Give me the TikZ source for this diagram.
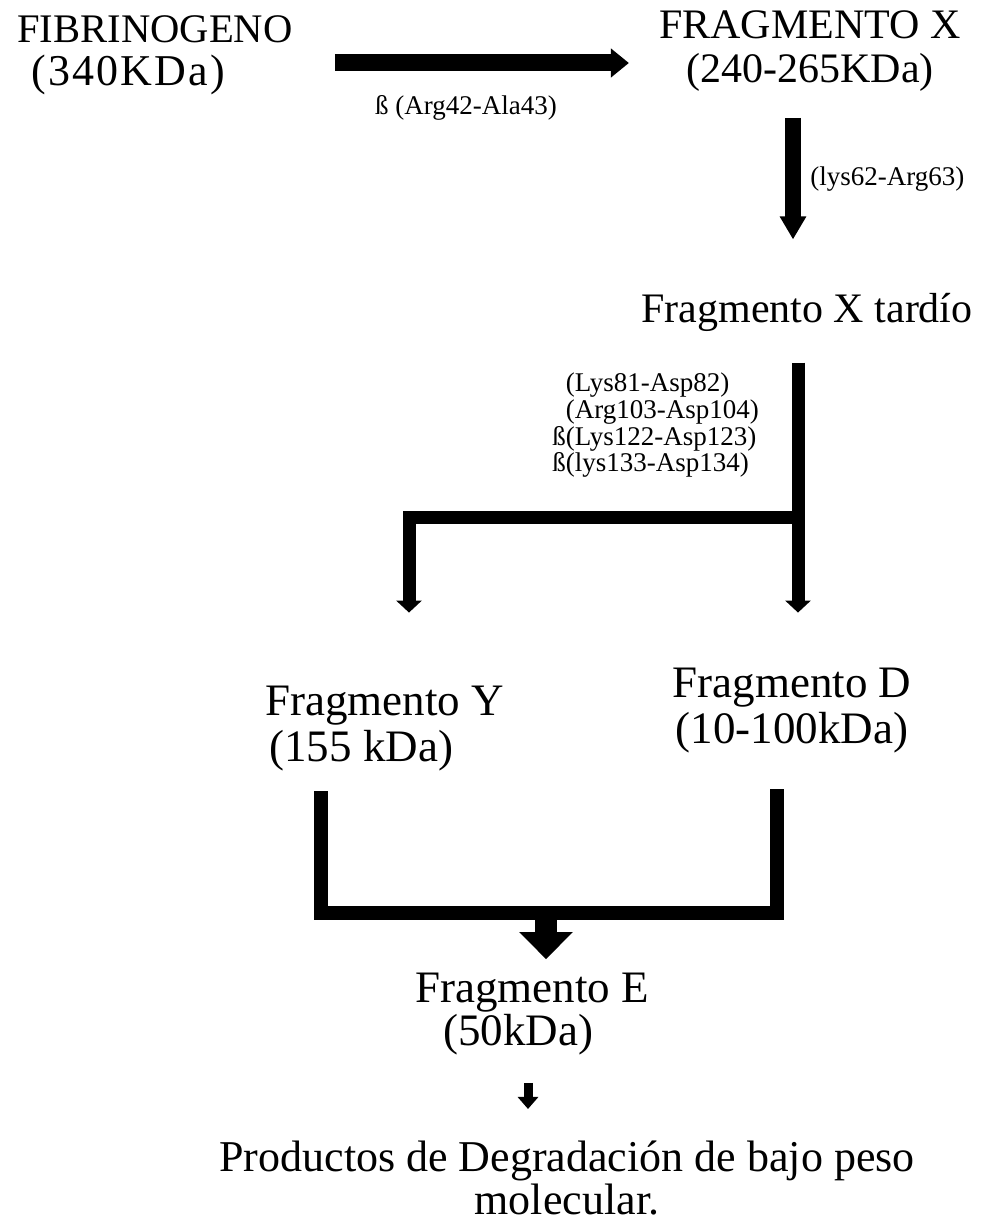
\documentclass[tikz,border=0pt]{standalone}
\usepackage{fontspec}
\setmainfont{Liberation Serif}
\usepackage{tikz}
\usetikzlibrary{arrows.meta}

\begin{document}
\begin{tikzpicture}[
  x=0.5pt, y=-0.5pt,
  frag/.style={inner sep=0pt, align=center, font=\fontsize{21}{22}\selectfont},
  bigfrag/.style={frag, font=\fontsize{22.5}{23}\selectfont},
  cut/.style={inner sep=0pt, align=left, font=\fontsize{13.5}{12.3}\selectfont},
  toparr/.style={line width=8.5pt, -{Triangle[length=9pt,width=14pt]}},
  downarr/.style={line width=8pt, -{Triangle[length=11.5pt,width=12.5pt]}},
  brarr/.style={line width=6.5pt, -{Triangle[length=6pt,width=12.5pt]}},
  brk/.style={line width=7pt},
  earr/.style={line width=11pt, -{Triangle[length=13.5pt,width=26pt]}},
  smarr/.style={line width=4.5pt, -{Triangle[length=6pt,width=10pt]}}
]
\useasboundingbox (0,0) rectangle (983,1225);

\node[frag, font=\fontsize{20.3}{21.5}\selectfont, align=left, anchor=west] (fib) at (17,55)
  {FIBRINOGENO\\\hspace*{7pt}{\addfontfeatures{LetterSpace=5}\fontsize{22}{21.5}\selectfont(340KDa)}};
\node[frag] (fx) at (810,51) {FRAGMENTO X\\(240-265KDa)};
\node[frag] (tardio) at (807,312) {Fragmento X tardío};
\node[bigfrag, align=left, anchor=west] (fy) at (265,729) {Fragmento Y\\\hspace*{2pt}(155 kDa)};
\node[bigfrag] (fd) at (792,711) {Fragmento D\\(10-100kDa)};
\node[bigfrag, font=\fontsize{22.5}{20}\selectfont, align=left, anchor=west] (fe) at (415,1014)
  {Fragmento E\\\hspace*{14pt}(50kDa)};
\node[frag, font=\fontsize{22}{19}\selectfont] (prod) at (567,1178)
  {Productos de Degradación de bajo peso\\molecular.};

% cleavage sites
\coordinate (r1) at (0,63);
\node[cut] (c1) at (466,108) {ß (Arg42-Ala43)};
\node[cut, anchor=west] (c2) at (810,179) {(lys62-Arg63)};
\node[cut, anchor=west] (c3) at (552,425) {\phantom{ß}(Lys81-Asp82)\\
  \phantom{ß}(Arg103-Asp104)\\ß(Lys122-Asp123)\\ß(lys133-Asp134)};

\draw[toparr, shorten <=21pt, shorten >=15pt] (fib.east |- r1) -- (fx.west |- r1);

\coordinate (xc) at (793,0);
\draw[downarr, shorten <=13pt, shorten >=26.5pt] (fx.south -| xc) -- (tardio.north -| xc);

% split into Y and D
\coordinate (jr) at (798,517);
\coordinate (jl) at (409,517);
\draw[brarr, shorten <=15.5pt, shorten >=27.75pt] (tardio.south -| jr) -- (fd.north -| jr);
\draw[brarr, shorten >=36.75pt] (jr) -- (jl) -- (fy.north -| jl);

% Y and D give E
\coordinate (bl) at (321,913);
\coordinate (br) at (777,913);
\coordinate (bm) at (546,913);
\draw[brk, shorten <=9.75pt, shorten >=17.75pt] (fy.south -| bl) -- (bl) -- (br) -- (fd.south -| br);
\draw[earr, shorten >=6.75pt] (bm) -- (fe.north -| bm);

\coordinate (pc) at (528,0);
\draw[smarr, shorten <=13.75pt, shorten >=16pt] (fe.south -| pc) -- (prod.north -| pc);
\end{tikzpicture}
\end{document}
